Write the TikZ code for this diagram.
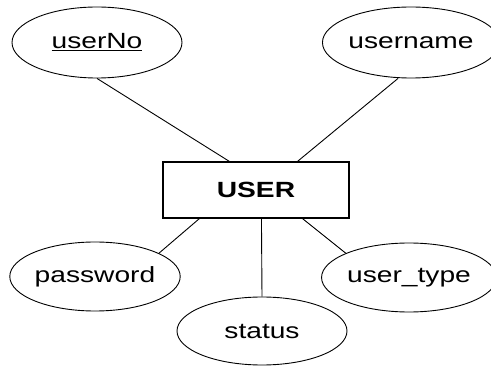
\documentclass[tikz,border=0pt]{standalone}
\usepackage{fontspec}
\setmainfont[FakeStretch=1.28]{Liberation Sans}
\usetikzlibrary{shapes.geometric}
\tikzset{
  attr/.style={ellipse, draw, line width=0.9pt, inner sep=0pt, font=\fontsize{22}{26}\selectfont},
  entity/.style={rectangle, draw, line width=1.1pt, inner sep=0pt, minimum width=186pt, minimum height=56pt, font=\fontsize{22}{26}\selectfont\bfseries},
  link/.style={line width=0.9pt}
}
\begin{document}
\begin{tikzpicture}[x=1pt,y=-1pt]
\useasboundingbox (0,0) rectangle (491,366);
\node[entity] (user) at (256,190) {USER};
\node[attr, minimum width=170pt, minimum height=71pt] (userNo) at (97,42.5) {\underline{userNo}};
\node[attr, minimum width=160pt, minimum height=71pt] (username) at (411,42.5) {username};
\node[attr, minimum width=168pt, minimum height=69pt] (password) at (95,276.5) {password};
\node[attr, minimum width=162pt, minimum height=69pt] (usertype) at (409,277.5) {user\_type};
\node[attr, minimum width=170pt, minimum height=68pt] (status) at (262,331) {status};
\draw[link] (userNo.south) -- ([xshift=67pt]user.north west);
\draw[link] ([xshift=-13pt]username.south) -- ([xshift=135pt]user.north west);
\draw[link] (password.20) -- ([xshift=37pt]user.south west);
\draw[link] (usertype.159) -- ([xshift=140pt]user.south west);
\draw[link] (status.north) -- ([xshift=99pt]user.south west);
\end{tikzpicture}
\end{document}
